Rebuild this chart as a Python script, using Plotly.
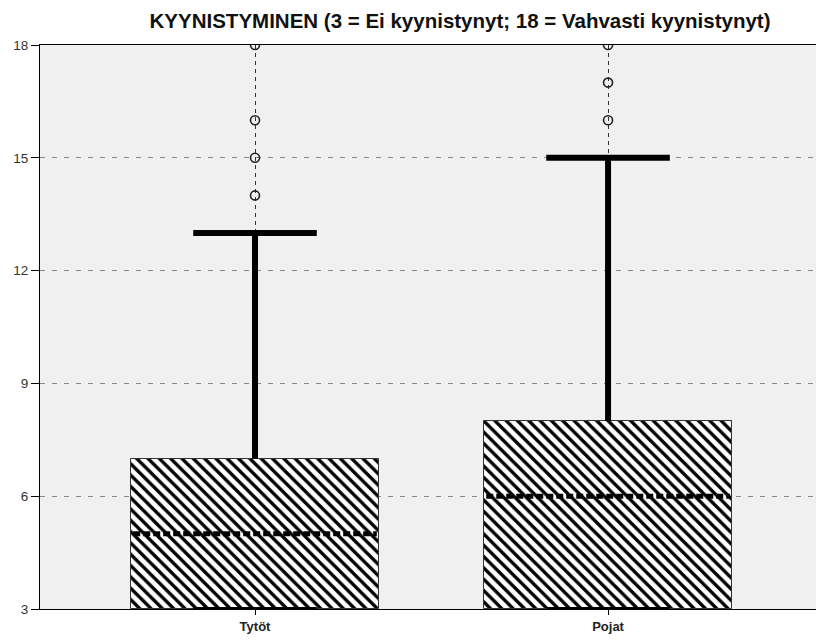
import plotly.graph_objects as go

categories = ["Tytöt", "Pojat"]
positions = [0, 1]
q1 = [3, 3]
median = [5, 6]
q3 = [7, 8]
whisker_low = [3, 3]
whisker_high = [13, 15]
outliers = [[14, 15, 16, 18], [16, 17, 18]]
y_ticks = [3, 6, 9, 12, 15, 18]
title_text = "KYYNISTYMINEN (3 = Ei kyynistynyt; 18 = Vahvasti kyynistynyt)"

BOX_W = 0.70
CAP_HW = 0.175
FONT = "Liberation Sans, Arial, sans-serif"

fig = go.Figure()

# boxes (hatched) as bars from q1 to q3
fig.add_trace(go.Bar(
    x=positions,
    y=[b - a for a, b in zip(q1, q3)],
    base=q1,
    width=BOX_W,
    marker=dict(
        color="white",
        line=dict(color="#333333", width=1),
        pattern=dict(shape="\\", fgcolor="black", bgcolor="white", fgopacity=1,
                     size=8, solidity=0.42),
    ),
    hoverinfo="skip",
    showlegend=False,
))

for i, p in enumerate(positions):
    # median
    fig.add_trace(go.Scatter(
        x=[p - BOX_W / 2 + 0.005, p + BOX_W / 2 - 0.005], y=[median[i], median[i]],
        mode="lines", line=dict(color="black", width=5, dash="7px,3px"),
        showlegend=False, hoverinfo="skip",
    ))
    # upper whisker
    fig.add_trace(go.Scatter(
        x=[p, p], y=[q3[i], whisker_high[i]],
        mode="lines", line=dict(color="black", width=6),
        showlegend=False, hoverinfo="skip",
    ))
    # upper cap
    fig.add_trace(go.Scatter(
        x=[p - CAP_HW, p + CAP_HW], y=[whisker_high[i], whisker_high[i]],
        mode="lines", line=dict(color="black", width=6),
        showlegend=False, hoverinfo="skip",
    ))
    # lower cap (at axis)
    fig.add_trace(go.Scatter(
        x=[p - CAP_HW, p + CAP_HW], y=[whisker_low[i], whisker_low[i]],
        mode="lines", line=dict(color="black", width=4),
        cliponaxis=False,
        showlegend=False, hoverinfo="skip",
    ))
    # outliers
    fig.add_trace(go.Scatter(
        x=[p] * len(outliers[i]), y=outliers[i],
        mode="markers",
        marker=dict(symbol="circle-open", size=9, color="#222222", line=dict(width=1.6, color="#222222")),
        showlegend=False, hoverinfo="skip",
    ))

fig.update_layout(
    width=816, height=643,
    margin=dict(l=40, r=0, t=45, b=34),
    paper_bgcolor="white",
    plot_bgcolor="#F0F0F0",
    font=dict(family=FONT, color="#222222"),
    title=dict(
        text="<b>" + title_text + "</b>",
        x=460 / 816, xanchor="center", xref="container",
        y=1 - 21 / 643, yanchor="middle", yref="container",
        font=dict(family=FONT, size=20.5, color="#111111"),
    ),
    bargap=0,
)

fig.update_xaxes(
    range=[-0.609, 1.589],
    tickvals=positions,
    ticktext=["<b>" + c + "</b>" for c in categories],
    tickfont=dict(family=FONT, size=13, color="#222222"),
    ticks="outside", ticklen=5, tickcolor="black", tickwidth=1,
    showgrid=True, gridcolor="#333333", gridwidth=1, griddash="4px,4px",
    showline=True, linecolor="black", linewidth=1, mirror=True,
    zeroline=False, fixedrange=True,
)
fig.update_yaxes(
    range=[3, 18],
    tickvals=y_ticks,
    tickfont=dict(family=FONT, size=13.5, color="#333333"),
    ticks="outside", ticklen=8, tickcolor="black", tickwidth=1,
    ticklabelstandoff=0,
    showgrid=True, gridcolor="#888888", gridwidth=1, griddash="5px,7px",
    showline=True, linecolor="black", linewidth=1,
    zeroline=False, fixedrange=True,
)

fig.write_html("out.html")
